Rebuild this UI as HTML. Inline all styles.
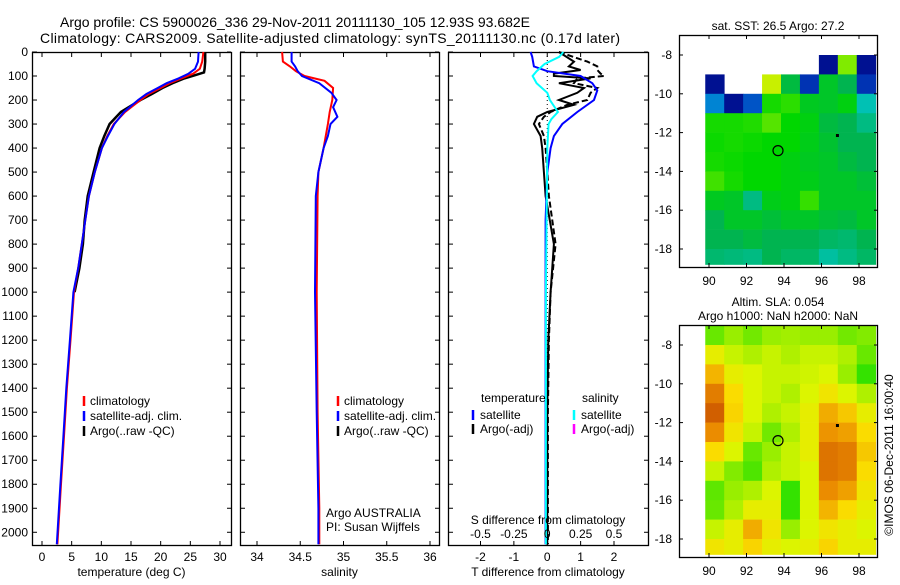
<!DOCTYPE html>
<html><head><meta charset="utf-8"><style>
body{margin:0;background:#fff;}
svg text{font-family:"Liberation Sans",sans-serif;font-size:12px;fill:#000;}
</style></head><body>
<svg id="c" width="900" height="580" xmlns="http://www.w3.org/2000/svg"></svg>
<script>
// ---- data ----
const depthTicks=[0,100,200,300,400,500,600,700,800,900,1000,1100,1200,1300,1400,1500,1600,1700,1800,1900,2000];
const tTicks=[0,5,10,15,20,25,30];
const sTicks=[34,34.5,35,35.5,36];
const dTTicks=[-2,-1,0,1,2];
const dSTicks=[-0.5,-0.25,0,0.25,0.5];
const dSTickLabels=["-0.5","-0.25","0","0.25","0.5"];
const climTdepth=[0,40,70,90,110,130,150,175,200,250,300,350,400,500,600,700,800,900,1000,1200,1400,1600,1800,2050];
const climT=[27.2,27.0,26.6,25.5,23.5,21.5,20.0,18.0,16.6,14.0,12.1,11.0,10.1,8.9,7.9,7.3,6.7,6.1,5.4,4.8,4.2,3.7,3.2,2.6];
const satTdepth=[0,40,70,90,110,130,150,175,200,250,300,350,400,500,600,700,800,900,1000,1200,1400,1600,1800,2050];
const satT=[26.4,26.3,25.8,24.7,23.0,21.0,19.5,17.6,16.2,13.8,12.2,11.1,10.1,8.9,7.9,7.3,6.7,6.1,5.3,4.7,4.1,3.6,3.1,2.5];
const argoTdepth=[0,40,70,85,95,110,130,150,175,200,250,300,350,400,500,600,700,800,900,1000];
const argoT=[27.5,27.5,27.4,27.3,26.0,24.0,22.0,20.3,18.5,16.6,13.3,11.4,10.5,9.7,8.7,7.7,7.2,6.9,6.3,5.5];
const climSdepth=[0,40,60,80,100,120,150,200,250,300,400,500,600,1000,1500,1900,2050];
const climS=[34.29,34.3,34.38,34.45,34.55,34.78,34.88,34.87,34.84,34.82,34.77,34.71,34.7,34.69,34.7,34.72,34.72];
const satSdepth=[0,40,60,80,100,130,170,200,230,270,300,350,400,500,600,1000,1500,1900,2050];
const satS=[34.4,34.4,34.44,34.47,34.52,34.72,34.86,34.92,34.88,34.93,34.85,34.82,34.77,34.71,34.68,34.67,34.69,34.71,34.71];
const dTsatDepth=[0,20,60,80,100,130,160,200,250,300,350,400,500,700,1000,2050];
const dTsat=[-0.5,-0.45,-0.4,0,1.0,1.35,1.5,1.4,0.9,0.45,0.2,0.1,0,-0.05,-0.05,-0.05];
const dSsatDepth=[0,20,50,80,100,130,170,200,250,280,300,400,700,1000,2050];
const dSsat=[0.12,0.09,-0.02,-0.08,-0.11,-0.08,0,0.02,0.08,0.03,0.01,0,-0.005,-0.01,-0.01];
const dTargoDepth=[0,40,60,75,90,100,110,130,150,170,200,220,250,270,300,350,400,500,600,800,1000,1200,1500,2050];
const dTargo=[0.35,0.8,0.65,1.0,0.2,0.2,1.3,0.35,1.1,0.9,0.35,0.8,0,-0.3,-0.4,-0.2,-0.15,-0.1,-0.05,0.2,0.1,0.03,0,0];
const dTargo2=[0.35,1.2,1.5,1.5,1.6,1.7,0.9,0.8,1.5,1.3,1.2,0.6,0.1,-0.1,-0.25,-0.1,-0.05,0,0.05,0.25,0.1,0.05,0.02,0.02];
const sstGrid=[
[null,null,null,null,null,null,null,null,null],
[null,null,null,null,null,null,0.04,0.72,0.04],
[0.04,null,null,0.8,0.52,0.12,0.55,0.5,0.12],
[0.25,0.04,0.18,0.62,0.64,0.56,0.55,0.58,0.4],
[0.62,0.62,0.63,0.68,0.6,0.58,0.52,0.5,0.45],
[0.61,0.62,0.61,0.6,0.6,0.57,0.54,0.5,0.5],
[0.62,0.61,0.6,0.6,0.58,0.56,0.55,0.52,0.5],
[0.66,0.62,0.6,0.6,0.58,0.57,0.55,0.55,0.53],
[0.56,0.55,0.45,0.57,0.58,0.65,0.55,0.55,0.55],
[0.5,0.55,0.55,0.53,0.55,0.55,0.53,0.52,0.55],
[0.5,0.5,0.52,0.5,0.5,0.5,0.48,0.47,0.5],
[0.47,0.46,0.45,0.5,0.48,0.48,0.42,0.45,0.48]];
const slaGrid=[
[0.2,0.3,0.22,0.3,0.32,0.3,0.3,0.22,0.25],
[0.5,0.4,0.35,0.4,0.35,0.4,0.4,0.35,0.2],
[0.7,0.5,0.45,0.4,0.4,0.42,0.45,0.3,0.1],
[0.85,0.6,0.45,0.4,0.35,0.45,0.55,0.45,0.35],
[0.95,0.62,0.45,0.35,0.4,0.5,0.72,0.65,0.5],
[0.8,0.55,0.4,0.22,0.35,0.5,0.78,0.75,0.6],
[0.6,0.45,0.2,0.3,0.4,0.5,0.88,0.85,0.65],
[0.4,0.25,0.15,0.35,0.4,0.45,0.88,0.85,0.6],
[0.18,0.3,0.35,0.45,0.1,0.45,0.8,0.75,0.55],
[0.2,0.35,0.5,0.5,0.1,0.45,0.7,0.6,0.5],
[0.4,0.5,0.72,0.55,0.3,0.45,0.55,0.5,0.45],
[0.55,0.5,0.62,0.5,0.45,0.5,0.62,0.5,0.5]];
const lonTicks=[90,92,94,96,98];
const latTicks=[-8,-10,-12,-14,-16,-18];

// ---- helpers ----
const svg=document.getElementById('c');
const NS='http://www.w3.org/2000/svg';
function el(tag,attrs,parent){const e=document.createElementNS(NS,tag);for(const k in attrs)e.setAttribute(k,attrs[k]);(parent||svg).appendChild(e);return e;}
function txt(s,x,y,anchor,parent){const t=el('text',{x:x,y:y,'text-anchor':anchor||'start'},parent);t.textContent=s;return t;}
const TOPY=52,BOTY=545;
const yD=d=>TOPY+(d/2053)*(BOTY-TOPY);
function lin(d0,d1,r0,r1){return v=>r0+(v-d0)/(d1-d0)*(r1-r0);}

function panel(name,x0,x1,xs,ticks,labels,title){
  const g=el('g',{});
  
  
  el('rect',{x:x0+0.5,y:TOPY+0.5,width:x1-x0,height:BOTY-TOPY,fill:'none',stroke:'#000','stroke-width':1.3},g);
  depthTicks.forEach(d=>{const y=yD(d);el('line',{x1:x0,x2:x0+5,y1:y,y2:y,stroke:'#000'},g);el('line',{x1:x1-4,x2:x1,y1:y,y2:y,stroke:'#000'},g);});
  ticks.forEach((v,i)=>{const x=xs(v);el('line',{x1:x,x2:x,y1:BOTY-4,y2:BOTY,stroke:'#000'},g);el('line',{x1:x,x2:x,y1:TOPY,y2:TOPY+5,stroke:'#000'},g);const t=txt(labels[i],x,561,'middle',g);});
  const tt=txt(title,(x0+x1)/2,576,'middle',g);
  
  
  return g;
}
function drawLine(xs,vals,depths,color,w,name,dash){
  const p=vals.map((v,i)=>`${xs(v).toFixed(1)},${yD(depths[i]).toFixed(1)}`).join(' ');
  const e=el('polyline',{points:p,fill:'none',stroke:color,'stroke-width':w});
  if(dash)e.setAttribute('stroke-dasharray',dash);
  
  
}

let t1=txt('Argo profile: CS 5900026_336 29-Nov-2011 20111130_105 12.93S 93.682E',60,27,'start');
t1.setAttribute('style','font-size:14px');
t1.setAttribute('textLength','470');


let t2=txt('Climatology: CARS2009. Satellite-adjusted climatology: synTS_20111130.nc (0.17d later)',40,43,'start');
t2.setAttribute('style','font-size:14px');
t2.setAttribute('textLength','580');



depthTicks.forEach(d=>{const t=txt(String(d),28,yD(d)+4,'end');});

const xT=lin(0,30,42,220);
panel('temperature-panel',32,231,xT,tTicks,tTicks.map(String),'temperature (deg C)');
drawLine(xT,argoT,argoTdepth,'#000',2.5,'argo-temperature-line');
drawLine(xT,climT,climTdepth,'#f00',2,'climatology-temperature-line');
drawLine(xT,satT,satTdepth,'#00f',2,'satellite-temperature-line');
function legend(x,name,items){
  const g=el('g',{});
  
  
  items.forEach((it,i)=>{const y=402+i*15;el('line',{x1:x,x2:x,y1:y-6,y2:y+4,stroke:it[1],'stroke-width':2.5},g);txt(it[0],x+6,y+3,'start',g);});
}
legend(84,'temperature-legend',[['climatology','#f00'],['satellite-adj. clim.','#00f'],['Argo(..raw -QC)','#000']]);

const xS=lin(34,36,257,430);
panel('salinity-panel',240,439,xS,sTicks,['34','34.5','35','35.5','36'],'salinity');
drawLine(xS,climS,climSdepth,'#f00',2,'climatology-salinity-line');
drawLine(xS,satS,satSdepth,'#00f',2,'satellite-salinity-line');
legend(338,'salinity-legend',[['climatology','#f00'],['satellite-adj. clim.','#00f'],['Argo(..raw -QC)','#000']]);
let a1=txt('Argo AUSTRALIA',326,517);
let a2=txt('PI: Susan Wijffels',326,531);

const xdT=lin(-2,2,480.5,614);
const xdS=v=>xdT(v*4);
panel('difference-panel',448,648,xdT,dTTicks,dTTicks.map(String),'T difference from climatology');
el('line',{x1:xdT(0),x2:xdT(0),y1:TOPY,y2:BOTY,stroke:'#000','stroke-dasharray':'1,3'});
drawLine(xdT,dTargo2,dTargoDepth,'#000',2,'argo-t-diff-dashed-line','6,3');
drawLine(xdT,dTargo,dTargoDepth,'#000',2,'argo-t-diff-line');
drawLine(xdT,dTsat,dTsatDepth,'#00f',2,'satellite-t-diff-line');
drawLine(xdS,dSsat,dSsatDepth,'#0ff',2,'satellite-s-diff-line');
dSTicks.forEach((v,i)=>{const t=txt(dSTickLabels[i],xdS(v),538,'middle');});
let st=txt('S difference from climatology',548,524,'middle');
const lg=el('g',{});


txt('temperature',481,402,'start',lg);txt('salinity',582,402,'start',lg);
[['satellite','#00f',473],['Argo(-adj)','#000',473],['satellite','#0ff',574],['Argo(-adj)','#f0f',574]].forEach((it,i)=>{const y=416+(i%2)*14;el('line',{x1:it[2],x2:it[2],y1:y-6,y2:y+4,stroke:it[1],'stroke-width':2.5},lg);txt(it[0],it[2]+7,y+3,'start',lg);});

const mx=lin(90,98,709,859);
const stops=[[0,[0,0,128]],[0.15,[0,64,192]],[0.35,[0,200,230]],[0.5,[0,180,80]],[0.6,[0,215,0]],[0.75,[160,240,0]],[0.85,[240,240,0]],[1,[240,160,0]]];
const stops2=[[0,[0,220,0]],[0.25,[130,235,0]],[0.45,[220,245,0]],[0.6,[250,220,0]],[0.8,[235,140,0]],[1,[200,80,0]]];
function cmap(v,st){for(let i=1;i<st.length;i++){if(v<=st[i][0]){const a=st[i-1],b=st[i],f=(v-a[0])/(b[0]-a[0]);const c=a[1].map((x,k)=>Math.round(x+(b[1][k]-x)*f));return `rgb(${c.join(',')})`;}}return `rgb(${st[st.length-1][1].join(',')})`;}
function drawMap(name,y0,grid,st,title){
  const my=lin(-8,-18,y0+20,y0+214);
  const g=el('g',{});
  
  
  const cw=mx(90.8)-mx(89.8);
  grid.forEach((row,r)=>row.forEach((v,c)=>{if(v===null)return;const la=-7-r,lb=Math.max(-8-r,-18.8);const x=mx(89.8+c*1.01);el('rect',{x:x,y:my(la),width:cw+0.6,height:my(lb)-my(la)+0.3,fill:cmap(v,st)},g);}));
  el('rect',{x:679.5,y:y0+0.5,width:198,height:232,fill:'none',stroke:'#000','stroke-width':1.3},g);
  lonTicks.forEach(v=>{const x=mx(v);el('line',{x1:x,x2:x,y1:y0,y2:y0+4,stroke:'#000'},g);el('line',{x1:x,x2:x,y1:y0+228,y2:y0+232,stroke:'#000'},g);txt(String(v),x,y0+250,'middle',g);});
  latTicks.forEach(v=>{const y=my(v);el('line',{x1:679,x2:683,y1:y,y2:y,stroke:'#000'},g);el('line',{x1:874,x2:878,y1:y,y2:y,stroke:'#000'},g);txt(String(v),672,y+4,'end',g);});
  el('circle',{cx:mx(93.68),cy:my(-12.93),r:5,fill:'none',stroke:'#000','stroke-width':1.2},g);
  el('rect',{x:mx(96.85)-1.5,y:my(-12.15)-1.5,width:3,height:3,fill:'#000'},g);
  title.forEach((s,i)=>txt(s,778,y0-(title.length-1-i)*14-5,'middle',g));
}
drawMap('sst-map',35,sstGrid,stops,['sat. SST: 26.5 Argo: 27.2']);
drawMap('sla-map',325,slaGrid,stops2,['Altim. SLA: 0.054','Argo h1000: NaN h2000: NaN']);
const cr=txt('©IMOS 06-Dec-2011 16:00:40',0,0,'middle');
cr.setAttribute('transform','translate(893,455) rotate(-90)');


</script>
</body></html>
